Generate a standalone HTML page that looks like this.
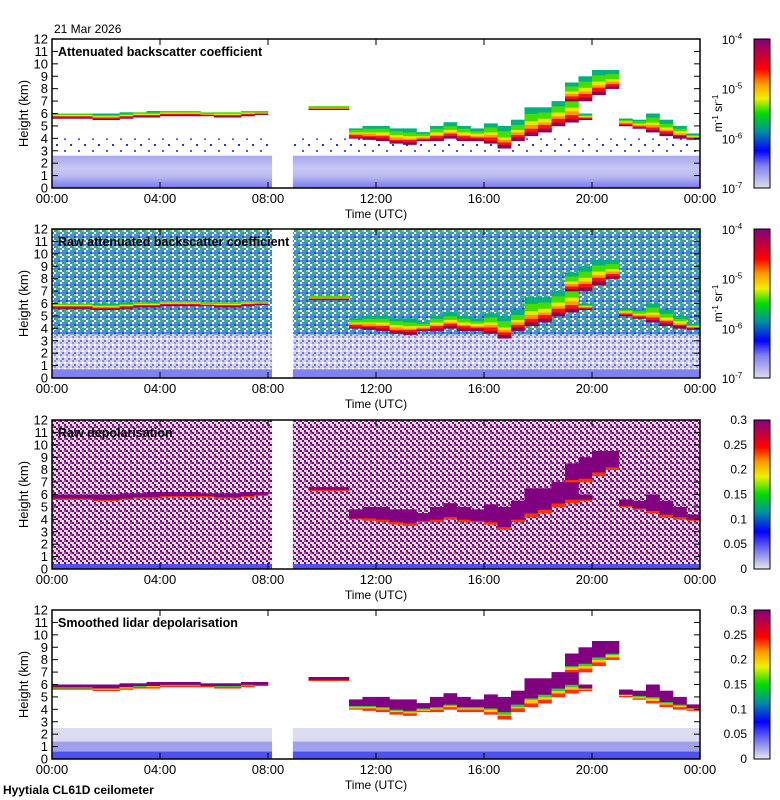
<!DOCTYPE html>
<html><head><meta charset="utf-8"><style>
body{margin:0;background:#fff}
svg{display:block;font-family:"Liberation Sans",sans-serif}
</style></head><body>
<svg id="c" width="780" height="800" xmlns="http://www.w3.org/2000/svg">
<defs>
<pattern id="pRaw" width="8" height="8" patternUnits="userSpaceOnUse">
<rect width="8" height="8" fill="#4a8cd8"/><rect x="0" y="0" width="2" height="2" fill="#22cc44"/><rect x="4" y="2" width="2" height="2" fill="#ffffff"/><rect x="2" y="4" width="2" height="2" fill="#2244ee"/><rect x="6" y="6" width="2" height="2" fill="#22aa66"/><rect x="6" y="0" width="2" height="2" fill="#e8e8ff"/><rect x="2" y="6" width="2" height="2" fill="#88dd22"/><rect x="4" y="6" width="2" height="2" fill="#ffffff"/>
</pattern>
<pattern id="pRawLow" width="6" height="6" patternUnits="userSpaceOnUse">
<rect width="6" height="6" fill="#d4d4ec"/><rect x="0" y="0" width="2" height="2" fill="#9090e0"/><rect x="4" y="2" width="2" height="2" fill="#ffffff"/><rect x="2" y="4" width="2" height="2" fill="#7070e8"/>
</pattern>
<pattern id="pDep" width="6" height="6" patternUnits="userSpaceOnUse">
<rect width="6" height="6" fill="#dadada"/><rect x="0" y="0" width="2" height="2" fill="#800080"/><rect x="2" y="2" width="2" height="2" fill="#800080"/><rect x="4" y="4" width="2" height="2" fill="#800080"/><rect x="4" y="0" width="2" height="2" fill="#a050a0"/>
</pattern>
<pattern id="pDots" width="14" height="12" patternUnits="userSpaceOnUse">
<rect x="0" y="0" width="2" height="2" fill="#2233ee"/><rect x="8" y="6" width="2" height="2" fill="#4455ff"/>
</pattern>
<linearGradient id="gBs" x1="0" y1="1" x2="0" y2="0">
<stop offset="0" stop-color="#dcdcec"/><stop offset="0.15" stop-color="#8080f0"/><stop offset="0.25" stop-color="#0000ff"/><stop offset="0.38" stop-color="#0090a0"/><stop offset="0.5" stop-color="#00dd00"/><stop offset="0.6" stop-color="#f0f000"/><stop offset="0.7" stop-color="#ff9900"/><stop offset="0.8" stop-color="#ff0000"/><stop offset="0.9" stop-color="#c00040"/><stop offset="1" stop-color="#800080"/>
</linearGradient>
<linearGradient id="gDp" x1="0" y1="1" x2="0" y2="0">
<stop offset="0" stop-color="#e8e8ee"/><stop offset="0.15" stop-color="#6060f0"/><stop offset="0.25" stop-color="#0000ff"/><stop offset="0.38" stop-color="#0090a0"/><stop offset="0.5" stop-color="#00dd00"/><stop offset="0.62" stop-color="#f0f000"/><stop offset="0.72" stop-color="#ff9900"/><stop offset="0.82" stop-color="#ff0000"/><stop offset="1" stop-color="#800080"/>
</linearGradient>
<linearGradient id="gLow" x1="0" y1="1" x2="0" y2="0">
<stop offset="0" stop-color="#7878f0"/><stop offset="0.35" stop-color="#b8b8f0"/><stop offset="0.6" stop-color="#c8c8f4"/><stop offset="1" stop-color="#a8a8f0"/>
</linearGradient>
</defs>
<g id="root"></g>
</svg>
<script>
// cloud layer data, 30-minute bins (hour of day)
const binHours = [0,0.5,1,1.5,2,2.5,3,3.5,4,4.5,5,5.5,6,6.5,7,7.5,9.5,10,10.5,11,11.5,12,12.5,13,13.5,14,14.5,15,15.5,16,16.5,17,17.5,18,18.5,19,19.5,21,21.5,22,22.5,23,23.5];
const cloudBase = [5.6,5.6,5.6,5.5,5.5,5.6,5.7,5.7,5.8,5.8,5.8,5.8,5.7,5.7,5.8,5.9,6.3,6.3,6.3,4.0,3.9,3.8,3.6,3.5,3.8,3.8,4.0,3.8,3.8,3.6,3.2,3.8,4.2,4.5,5.0,5.3,5.5,5.0,4.8,4.5,4.2,4.0,3.9];
const cloudTop  = [6.0,6.0,6.0,6.0,6.0,6.1,6.1,6.2,6.2,6.2,6.2,6.1,6.1,6.1,6.2,6.2,6.6,6.6,6.6,4.8,5.0,5.0,4.8,4.8,4.5,5.0,5.3,5.0,4.8,5.2,5.0,5.5,6.5,6.5,7.0,7.5,6.0,5.6,5.5,6.0,5.5,5.0,4.4];
const upperHours = [19,19.5,20,20.5];
const upperBase = [7.0,7.0,7.5,8.0];
const upperTop = [8.5,9.0,9.5,9.5];
const yTicks = [0,1,2,3,4,5,6,7,8,9,10,11,12];
const xTickHours = [0,4,8,12,16,20,24];
const xTickLabels = ["00:00","04:00","08:00","12:00","16:00","20:00","00:00"];
const bsBarLabels = ["10","10","10","10"];
const bsBarExp = ["-4","-5","-6","-7"];
const dpBarLabels = ["0.3","0.25","0.2","0.15","0.1","0.05","0"];
const titles = ["Attenuated backscatter coefficient","Raw attenuated backscatter coefficient","Raw depolarisation","Smoothed lidar depolarisation"];

const NS="http://www.w3.org/2000/svg";
const root=document.getElementById('root');
const L=52,R=700,H=149,tops=[39,229,420,610];
const gapA=8.15,gapB=8.92;
function xs(h){return L+h/24*(R-L);}
function ys(p,km){return tops[p]+(12-km)/12*H;}
function mk(tag,attrs,parent){const e=document.createElementNS(NS,tag);for(const k in attrs)e.setAttribute(k,attrs[k]);(parent||root).appendChild(e);return e;}

function cloudColor(p,f){
  if(p<2){ if(f<0.12)return "#900050"; if(f<0.25)return "#ff1010"; if(f<0.38)return "#ff9900"; if(f<0.5)return "#e8e800"; if(f<0.75)return "#44dd00"; return "#00b080";}
  if(p===2){ if(f<0.1)return "#ff3300"; return "#800080";}
  if(f<0.12)return "#ff3000"; if(f<0.22)return "#ffcc00"; if(f<0.3)return "#33cc33"; return "#800080";
}

for(let p=0;p<4;p++){
  const g=mk('g',{});
  
  
  const pw=R-L;
  if(p===0){
    const b=mk('rect',{x:L,y:ys(p,2.6),width:pw,height:ys(p,0)-ys(p,2.6),fill:"url(#gLow)"},g);
    
    mk('rect',{x:L,y:ys(p,4),width:pw,height:ys(p,2.6)-ys(p,4),fill:"url(#pDots)"},g);
  } else if(p===1){
    mk('rect',{x:L,y:tops[p],width:pw,height:H,fill:"url(#pRaw)"},g);
    mk('rect',{x:L,y:ys(p,3.5),width:pw,height:ys(p,0)-ys(p,3.5),fill:"url(#pRawLow)"},g);
    mk('rect',{x:L,y:ys(p,0.7),width:pw,height:ys(p,0)-ys(p,0.7),fill:"#8080ee"},g);
  } else if(p===2){
    mk('rect',{x:L,y:tops[p],width:pw,height:H,fill:"url(#pDep)"},g);
    mk('rect',{x:L,y:ys(p,0.4),width:pw,height:ys(p,0)-ys(p,0.4),fill:"#5050f0"},g);
  } else {
    mk('rect',{x:L,y:ys(p,2.5),width:pw,height:ys(p,0.6)-ys(p,2.5),fill:"#dcdcf0"},g);
    mk('rect',{x:L,y:ys(p,1.4),width:pw,height:ys(p,0.6)-ys(p,1.4),fill:"#a0a0ea"},g);
    mk('rect',{x:L,y:ys(p,0.6),width:pw,height:ys(p,0)-ys(p,0.6),fill:"#5050f0"},g);
  }
  function drawLayer(hours,base,top){
    for(let i=0;i<hours.length;i++){
      const h=hours[i],b=base[i],t=top[i];
      const x0=xs(h),w=xs(h+0.5)-x0;
      for(let km=b;km<t-0.001;km+=0.1){
        const f=(km-b)/(t-b);
        const r=mk('rect',{x:x0.toFixed(1),y:ys(p,km+0.1).toFixed(1),width:(w+0.3).toFixed(1),height:(H/120+0.3).toFixed(2),fill:cloudColor(p,f)},g);
        
        
      }
    }
  }
  drawLayer(binHours,cloudBase,cloudTop);
  drawLayer(upperHours,upperBase,upperTop);
  mk('rect',{x:xs(gapA),y:tops[p],width:xs(gapB)-xs(gapA),height:H+0.5,fill:"#fff"},g);
  const fr=mk('rect',{x:L,y:tops[p],width:pw,height:H,fill:"none",stroke:"#000","stroke-width":1.5},g);
  
  yTicks.forEach(v=>{
    const y=ys(p,v);
    mk('line',{x1:L,y1:y,x2:L+6,y2:y,stroke:"#000"},g);
    mk('line',{x1:R,y1:y,x2:R-6,y2:y,stroke:"#000"},g);
    const t=mk('text',{x:L-4,y:y+4.5,"text-anchor":"end","font-size":13},g);t.textContent=v;
    
  });
  xTickHours.forEach((h,i)=>{
    const x=xs(h);
    mk('line',{x1:x,y1:tops[p]+H,x2:x,y2:tops[p]+H-6,stroke:"#000"},g);
    mk('line',{x1:x,y1:tops[p],x2:x,y2:tops[p]+6,stroke:"#000"},g);
    const t=mk('text',{x:x,y:tops[p]+H+15,"text-anchor":"middle","font-size":13},g);t.textContent=xTickLabels[i];
    
  });
  const xt=mk('text',{x:376,y:tops[p]+H+30,"text-anchor":"middle","font-size":12},g);xt.textContent="Time (UTC)";
  
  const yt=mk('text',{x:0,y:0,"text-anchor":"middle","font-size":13,transform:`translate(28,${tops[p]+H/2}) rotate(-90)`},g);yt.textContent="Height (km)";
  
  const tt=mk('text',{x:58,y:tops[p]+17,"font-size":12.5,"font-weight":"bold"},g);tt.textContent=titles[p];
  
  const cb=mk('rect',{x:754,y:tops[p],width:16,height:H,fill:p<2?"url(#gBs)":"url(#gDp)",stroke:"#000","stroke-width":1},g);
  
  if(p<2){
    bsBarLabels.forEach((s,i)=>{
      const y=tops[p]+i*H/3;
      const t=mk('text',{x:732,y:y+5,"font-size":12,"text-anchor":"middle"},g);
      t.textContent=s;
      const e=mk('tspan',{dy:-5,"font-size":8},t);e.textContent=bsBarExp[i];
      
    });
    const u=mk('text',{x:0,y:0,"font-size":12,"text-anchor":"middle",transform:`translate(722,${tops[p]+H/2}) rotate(-90)`},g);
    u.textContent="m"; const a=mk('tspan',{dy:-4,"font-size":8},u);a.textContent="-1";
    const b2=mk('tspan',{dy:4},u);b2.textContent=" sr"; const c2=mk('tspan',{dy:-4,"font-size":8},u);c2.textContent="-1";
    
  } else {
    dpBarLabels.forEach((s,i)=>{
      const y=tops[p]+i*H/6;
      const t=mk('text',{x:747,y:y+4,"font-size":12,"text-anchor":"end"},g);t.textContent=s;
      
    });
  }
}
const d=mk('text',{x:54,y:33,"font-size":12});d.textContent="21 Mar 2026";

const s=mk('text',{x:3,y:794,"font-size":12,"font-weight":"bold"});s.textContent="Hyytiala CL61D ceilometer";

</script>
</body></html>
